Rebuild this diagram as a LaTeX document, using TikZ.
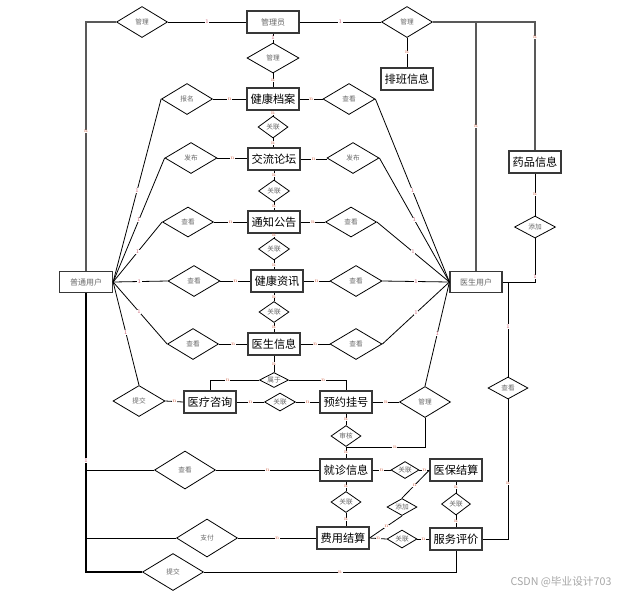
\documentclass[tikz,border=0pt]{standalone}
\usepackage{fontspec}
\newfontfamily\cjk{Noto Sans CJK SC}
\usetikzlibrary{shapes.geometric}
\definecolor{ncol}{RGB}{214,120,96}
\definecolor{onecol}{RGB}{200,92,112}
\begin{document}
\begin{tikzpicture}[x=0.75pt,y=-0.75pt,
  ent/.style={rectangle,draw=black!78,line width=0.9pt,minimum width=39pt,minimum height=16.5pt,inner sep=1pt,font=\cjk\fontsize{8.4}{9}\selectfont},
  usr/.style={ent,font=\cjk\fontsize{6}{7}\selectfont,text=black!60},
  dia/.style 2 args={diamond,shape aspect=1.6,draw=black,line width=0.6pt,inner sep=0pt,font=\cjk\fontsize{5}{6}\selectfont,text=black!60,minimum width=#1*0.75pt,minimum height=#2*0.75pt},
  card/.style={font=\fontsize{4.2}{5}\selectfont,inner sep=0.3pt,fill=white},
  cn/.style={card,text=ncol},
  c1/.style={card,text=onecol},
  conn/.style={draw=black,line width=0.6pt},
  trunk/.style={draw=black!65,line width=0.9pt}
]
\useasboundingbox (0,0) rectangle (624,594);

% ---------- nodes ----------
\node[usr,minimum height=16.5pt] (admin) at (273,22) {管理员};
\node[dia={51}{31}] (mgL) at (142,22) {管理};
\node[dia={52}{30}] (mgT) at (273,58) {管理};
\node[dia={51}{31}] (mgR) at (407,22) {管理};
\node[ent] (paiban) at (407,79) {排班信息};
\node[ent] (yaopin) at (535,162) {药品信息};
\node[dia={41}{22}] (tjA) at (535,227) {添加};
\node[ent] (jkda) at (273,99) {健康档案};
\node[dia={51}{31}] (baoming) at (187,99) {报名};
\node[dia={52}{31}] (ckA) at (349,99) {查看};
\node[dia={30}{22}] (glA) at (273,127) {关联};
\node[ent] (jllt) at (274,159) {交流论坛};
\node[dia={52}{31}] (fbL) at (191,158) {发布};
\node[dia={52}{31}] (fbR) at (353,158) {发布};
\node[dia={31}{22}] (glB) at (274,191) {关联};
\node[ent] (tzgg) at (274,222) {通知公告};
\node[dia={51}{30}] (ckBL) at (188,222) {查看};
\node[dia={51}{30}] (ckBR) at (351,222) {查看};
\node[dia={31}{22}] (glC) at (274,249) {关联};
\node[ent] (jkzx) at (277,281) {健康资讯};
\node[dia={52}{31}] (ckCL) at (194,281) {查看};
\node[dia={52}{31}] (ckCR) at (356,281) {查看};
\node[dia={30}{21}] (glD) at (274,312) {关联};
\node[ent] (ysxx) at (274,344) {医生信息};
\node[dia={51}{31}] (ckDL) at (193,344) {查看};
\node[dia={52}{31}] (ckDR) at (356,344) {查看};
\node[dia={29}{15}] (shuyu) at (274,380) {属于};
\node[dia={52}{31}] (tjxA) at (139,401) {提交};
\node[ent] (ylzx) at (210,402) {医疗咨询};
\node[dia={31}{18}] (glE) at (280,402) {关联};
\node[ent] (yygh) at (346,402) {预约挂号};
\node[dia={51}{31}] (mgB) at (425,402) {管理};
\node[dia={30}{21}] (shenhe) at (346,436) {审核};
\node[ent] (jzxx) at (346,470) {就诊信息};
\node[dia={61}{38}] (ckE) at (185,470) {查看};
\node[dia={28}{17}] (glF) at (405,470) {关联};
\node[ent] (ybjs) at (456,470) {医保结算};
\node[dia={30}{21}] (glG) at (346,502) {关联};
\node[ent] (fyjs) at (343,538) {费用结算};
\node[dia={61}{38}] (zhifu) at (207,538) {支付};
\node[dia={30}{18}] (glH) at (402,539) {关联};
\node[ent] (fwpj) at (456,539) {服务评价};
\node[dia={29}{22}] (glI) at (456,504) {关联};
\node[dia={30}{17}] (tjB) at (402,507) {添加};
\node[dia={61}{37}] (tjxB) at (173,572) {提交};
\node[dia={40}{22}] (ckF) at (508,388) {查看};
\node[usr,minimum width=39.75pt,minimum height=15.75pt] (putong) at (86,282) {普通用户};
\node[usr,minimum height=15.75pt] (yisheng) at (476,282) {医生用户};
\node[font=\cjk\fontsize{8}{9}\selectfont,text=black!35,inner sep=0pt] (wm) at (561,582) {CSDN @毕业设计703};

% ---------- top ----------
\draw[trunk] (putong.north) |- node[cn,pos=0.28]{n} (mgL.west);
\draw[conn] (mgL.east) -- node[c1]{1} (admin.west);
\draw[conn] (admin.east) -- node[c1]{1} (mgR.west);
\draw[conn] (admin.south) -- node[c1]{1} (mgT.north);
\draw[conn] (mgT.south) -- node[cn]{n} (jkda.north);
\draw[conn] (mgR.south) -- node[cn]{n} (paiban.north);
\draw[trunk] (mgR.east) -| node[cn,pos=0.56]{n} (yaopin.north);
\draw[trunk] (yisheng.north) -- node[cn,pos=0.58]{n} (yisheng.north |- mgR.east);
\draw[conn] (yaopin.south) -- node[cn]{n} (tjA.north);
\draw[conn] (tjA.south) |- node[c1,pos=0.44]{1} (yisheng.east);
\draw[conn] (ckF.north |- yisheng.east) -- node[c1,pos=0.47]{1} (ckF.north);
\draw[conn] (ckF.south) |- node[cn,pos=0.3]{n} (fwpj.east);

% ---------- central column ----------
\draw[conn] (jkda.south) -- node[cn]{n} (glA.north);
\draw[conn] (glA.south) -- node[cn]{n} (glA.south |- jllt.north);
\draw[conn] (jllt.south) -- node[cn]{n} (glB.north);
\draw[conn] (glB.south) -- node[cn]{n} (tzgg.north);
\draw[conn] (tzgg.south) -- node[cn]{n} (glC.north);
\draw[conn] (glC.south) -- node[cn]{n} (glC.south |- jkzx.north);
\draw[conn] (glD.north |- jkzx.south) -- node[cn]{n} (glD.north);
\draw[conn] (glD.south) -- node[cn]{n} (ysxx.north);
\draw[conn] (ysxx.south) -- node[cn]{n} (shuyu.north);
\draw[conn] (shuyu.west) -| node[cn,pos=0.32]{n} (ylzx.north);
\draw[conn] (shuyu.east) -| node[cn,pos=0.3]{n} (yygh.north);

% ---------- horizontal entity links ----------
\draw[conn] (baoming.east) -- node[cn]{n} (jkda.west);
\draw[conn] (jkda.east) -- node[cn]{n} (ckA.west);
\draw[conn] (fbL.east) -- node[cn]{n} (fbL.east -| jllt.west);
\draw[conn] (jllt.east) -- node[cn]{n} (jllt.east -| fbR.west);
\draw[conn] (ckBL.east) -- node[cn]{n} (tzgg.west);
\draw[conn] (tzgg.east) -- node[cn]{n} (ckBR.west);
\draw[conn] (ckCL.east) -- node[cn]{n} (jkzx.west);
\draw[conn] (jkzx.east) -- node[cn]{n} (ckCR.west);
\draw[conn] (ckDL.east) -- node[cn]{n} (ysxx.west);
\draw[conn] (ysxx.east) -- node[cn]{n} (ckDR.west);
\draw[conn] (tjxA.east) -- node[cn]{n} (ylzx.west);
\draw[conn] (ylzx.east) -- node[cn]{n} (glE.west);
\draw[conn] (glE.east) -- node[cn]{n} (yygh.west);
\draw[conn] (yygh.east) -- node[cn]{n} (mgB.west);
\draw[conn] (yygh.south) -- node[cn]{n} (shenhe.north);
\draw[conn] (shenhe.south) -- node[cn]{n} (jzxx.north);
\draw[conn] (mgB.south) |- node[cn,pos=0.69]{n} (shenhe.south);
\draw[conn] (jzxx.east) -- node[cn]{n} (glF.west);
\draw[conn] (glF.east) -- node[cn]{n} (ybjs.west);
\draw[conn] (jzxx.south) -- node[cn]{n} (glG.north);
\draw[conn] (glG.south) -- node[cn]{n} (glG.south |- fyjs.north);
\draw[conn] (ybjs.south) -- node[cn]{n} (glI.north);
\draw[conn] (glI.south) -- node[cn]{n} (fwpj.north);
\draw[conn] (fyjs.east) -- node[cn]{n} (glH.west);
\draw[conn] (glH.east) -- node[cn]{n} (fwpj.west);
\draw[conn] (fyjs.east) -- node[cn,pos=0.52]{n} (tjB.south);
\draw[conn] (tjB.north) -- node[cn,pos=0.46]{n} (ybjs.west);

% ---------- left user ----------
\draw[conn] (putong.east) -- node[c1]{1} (baoming.west);
\draw[conn] (putong.east) -- node[c1]{1} (fbL.west);
\draw[conn] (putong.east) -- node[c1]{1} (ckBL.west);
\draw[conn] (putong.east) -- node[c1,pos=0.48]{1} (ckCL.west);
\draw[conn] (putong.east) -- node[c1,pos=0.48]{1} (ckDL.west);
\draw[conn] (putong.east) -- node[c1,pos=0.49]{1} (tjxA.north);
\draw[draw=black,line width=0.9pt] (putong.south) |- node[c1,pos=0.3]{1} (tjxB.west);
\draw[conn] (ckE.west -| putong.south) -- (ckE.west);
\draw[conn] (zhifu.west -| putong.south) -- (zhifu.west);
\draw[conn] (ckE.east) -- node[cn]{n} (jzxx.west);
\draw[conn] (zhifu.east) -- node[cn]{n} (fyjs.west);
\draw[conn] (tjxB.east) -| node[cn,pos=0.27]{n} (fwpj.south);

% ---------- right user ----------
\draw[conn] (yisheng.west) -- node[c1]{1} (ckA.east);
\draw[conn] (yisheng.west) -- node[c1]{1} (fbR.east);
\draw[conn] (yisheng.west) -- node[c1]{1} (ckBR.east);
\draw[conn] (yisheng.west) -- node[c1]{1} (ckCR.east);
\draw[conn] (yisheng.west) -- node[c1]{1} (ckDR.east);
\draw[conn] (yisheng.west) -- node[c1]{1} (mgB.north);
\end{tikzpicture}
\end{document}
